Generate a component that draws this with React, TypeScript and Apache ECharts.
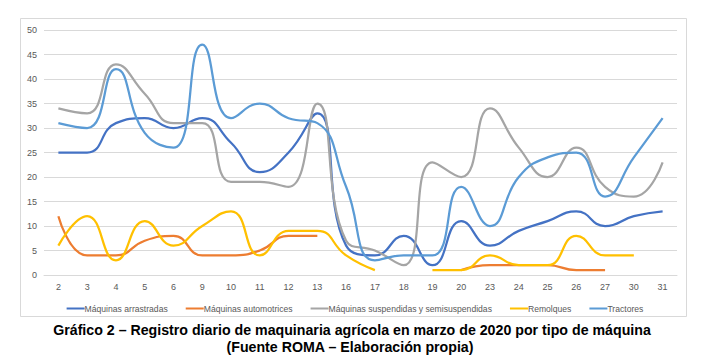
import React, { useEffect, useRef } from "react";
import * as echarts from "echarts";

const days = ["2", "3", "4", "5", "6", "9", "10", "11", "12", "13", "16", "17", "18", "19", "20", "23", "24", "25", "26", "27", "30", "31"];

const arrastradas = [25, 25, 31, 32, 30, 32, 27, 21, 25, 33, 6, 4, 8, 2, 11, 6, 9, 11, 13, 10, 12, 13];
const automotrices = [12, 4, 4, 7, 8, 4, 4, 5, 8, 8, null, null, null, null, 1, 2, 2, 2, 1, 1, null, null];
const suspendidas = [34, 33, 43, 37, 31, 31, 19, 19, 18, 35, 7, 5, 2, 23, 20, 34, 26, 20, 26, 18, 16, 23];
const remolques = [6, 12, 3, 11, 6, 10, 13, 4, 9, 9, 4, 1, null, 1, 1, 4, 2, 2, 8, 4, 4, null];
const tractores = [31, 30, 42, 29, 26, 47, 32, 35, 32, 31, 18, 3, 4, 4, 18, 10, 20, 24, 25, 16, 24, 32];

const seriesNames = [
  "Máquinas arrastradas",
  "Máquinas automotrices",
  "Máquinas suspendidas y semisuspendidas",
  "Remolques",
  "Tractores",
];
const seriesColors = ["#4472C4", "#ED7D31", "#A5A5A5", "#FFC000", "#5B9BD5"];
const seriesData = [arrastradas, automotrices, suspendidas, remolques, tractores];

const titleLine1 = "Gráfico 2 – Registro diario de maquinaria agrícola en marzo de 2020 por tipo de máquina";
const titleLine2 = "(Fuente ROMA – Elaboración propia)";

const FONT = "Liberation Sans, Arial, sans-serif";

export default function App() {
  const ref = useRef<HTMLDivElement>(null);
  useEffect(() => {
    if (!ref.current) return;
    const chart = echarts.init(ref.current, undefined, { renderer: "svg" });
    chart.setOption({
      animation: false,
      backgroundColor: "#ffffff",
      textStyle: { fontFamily: FONT },
      graphic: [
        {
          type: "rect",
          shape: { x: 20.5, y: 18.5, width: 666, height: 298 },
          style: { fill: "none", stroke: "#d9d9d9", lineWidth: 1 },
          silent: true,
        },
        {
          type: "text",
          x: 352,
          y: 330,
          style: {
            text: titleLine1,
            align: "center",
            verticalAlign: "middle",
            font: `bold 14.2px ${FONT}`,
            fill: "#000000",
          },
          silent: true,
        },
        {
          type: "text",
          x: 350,
          y: 347,
          style: {
            text: titleLine2,
            align: "center",
            verticalAlign: "middle",
            font: `bold 14.2px ${FONT}`,
            fill: "#000000",
          },
          silent: true,
        },
      ],
      legend: {
        top: 299,
        left: "center",
        icon: "rect",
        itemWidth: 18,
        itemHeight: 2,
        itemGap: 18,
        textStyle: { fontSize: 8.6, color: "#595959", padding: [0, 0, 0, -5] },
        data: seriesNames,
      },
      grid: { left: 44, right: 33, top: 30, bottom: 87 },
      xAxis: {
        type: "category",
        data: days,
        boundaryGap: true,
        axisLine: { show: true, lineStyle: { color: "#d9d9d9" } },
        axisTick: { show: false },
        axisLabel: { fontSize: 9, color: "#595959", margin: 7 },
      },
      yAxis: {
        type: "value",
        min: 0,
        max: 50,
        interval: 5,
        axisLine: { show: false },
        axisTick: { show: false },
        axisLabel: { fontSize: 9, color: "#595959", margin: 7 },
        splitLine: { lineStyle: { color: "#d9d9d9" } },
      },
      series: seriesNames.map((name, i) => ({
        name,
        type: "line",
        data: seriesData[i],
        smooth: 0.5,
        showSymbol: false,
        symbol: "none",
        connectNulls: false,
        lineStyle: { width: 2.25, color: seriesColors[i] },
        itemStyle: { color: seriesColors[i] },
      })),
    });
    return () => chart.dispose();
  }, []);
  return (
    <div
      ref={ref}
      style={{ position: "fixed", left: 0, top: 0, width: 710, height: 362, background: "#fff" }}
    />
  );
}
